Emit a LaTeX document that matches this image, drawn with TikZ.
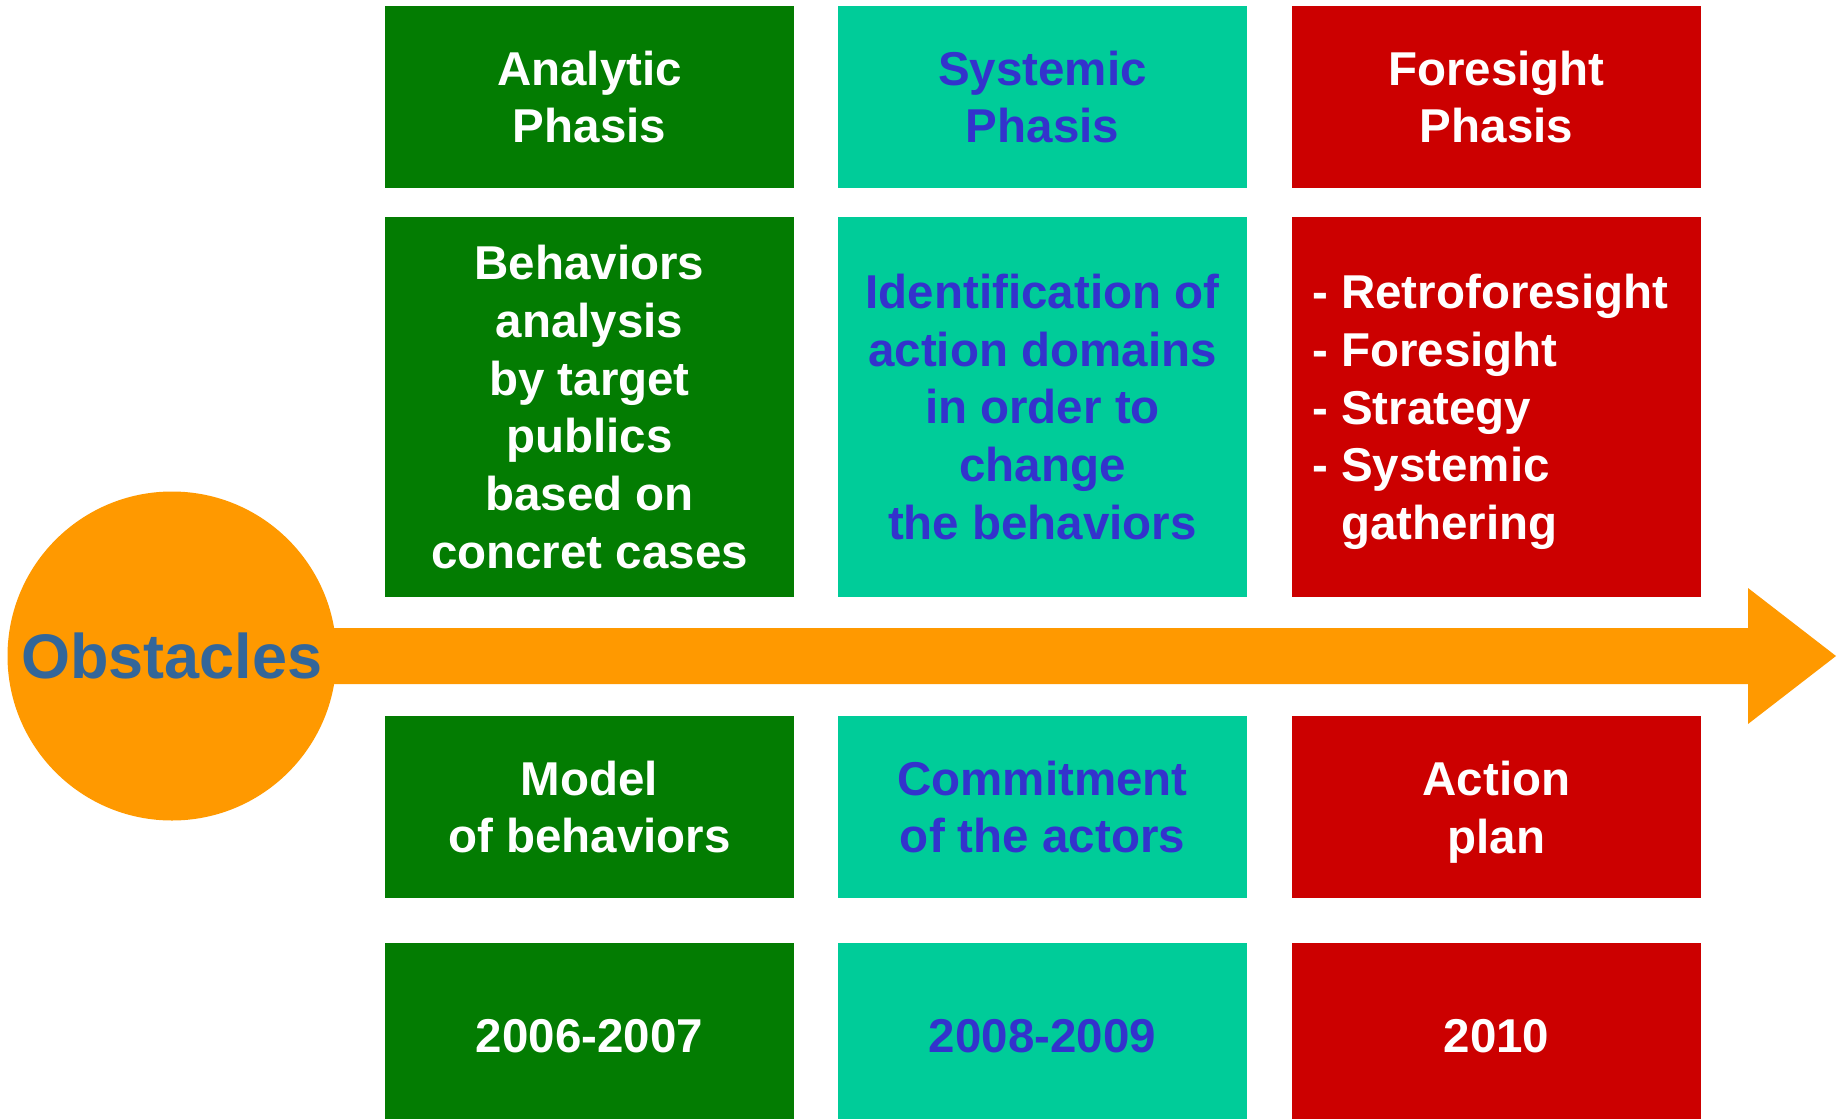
\documentclass[tikz,border=0pt]{standalone}
\usepackage{fontspec}
\setmainfont{Liberation Sans}
\definecolor{phasegreen}{HTML}{037C02}
\definecolor{phaseteal}{HTML}{00CC99}
\definecolor{phasered}{HTML}{CC0000}
\definecolor{arroworange}{HTML}{FF9900}
\definecolor{tealtext}{HTML}{3333CC}
\definecolor{obsttext}{HTML}{336699}
\tikzset{
    phasebox/.style={rectangle, inner sep=0pt, minimum width=409pt, align=center,
        font=\bfseries\fontsize{47.5}{57.7}\selectfont},
    greenbox/.style={phasebox, fill=phasegreen, text=white},
    tealbox/.style={phasebox, fill=phaseteal, text=tealtext},
    redbox/.style={phasebox, fill=phasered, text=white},
}
\begin{document}
\begin{tikzpicture}[x=1pt, y=-1pt]
        \useasboundingbox (0,0) rectangle (1845,1119);

        % arrow behind the circle
        \fill[arroworange] (300,628) -- (1748,628) -- (1748,588) -- (1836,656)
            -- (1748,724) -- (1748,684) -- (300,684) -- cycle;
        \node (obst) at (172,656) [circle, fill=arroworange, minimum size=329pt, inner sep=0pt,
            text=obsttext, font=\bfseries\fontsize{63}{70}\selectfont] {Obstacles};

        \begin{scope}[every node/.append style={minimum height=182pt}]
            \node[greenbox] (a1) at (589.5,97) {Analytic\\Phasis};
            \node[tealbox] (s1) at (1042.5,97) {Systemic\\Phasis};
            \node[redbox] (f1) at (1496.5,97) {Foresight\\Phasis};

            \node[greenbox] (a3) at (589.5,807) {Model\\of behaviors};
            \node[tealbox] (s3) at (1042.5,807) {Commitment\\of the actors};
            \node[redbox] (f3) at (1496.5,807) {Action\\\smash{plan}};
        \end{scope}

        \begin{scope}[every node/.append style={minimum height=380pt}]
            \node[greenbox] (a2) at (589.5,407) {Behaviors\\analysis\\by target\\publics\\based on\\concret cases};
            \node[tealbox] (s2) at (1042.5,407) {Identification of\\action domains\\in order to\\change\\the behaviors};
            \node[redbox] (f2) at (1496.5,407) {};
            \node[anchor=west, align=left, text=white, inner sep=0pt,
                font=\bfseries\fontsize{47.5}{57.7}\selectfont] (f2t) at (1312,412)
                {- Retroforesight\\- Foresight\\- Strategy\\- Systemic\\\phantom{- }gathering};
        \end{scope}

        \begin{scope}[every node/.append style={minimum height=186pt}]
            \node[greenbox] (a4) at (589.5,1036) {2006-2007};
            \node[tealbox] (s4) at (1042.5,1036) {2008-2009};
            \node[redbox] (f4) at (1496.5,1036) {2010};
        \end{scope}
    \end{tikzpicture}
\end{document}
